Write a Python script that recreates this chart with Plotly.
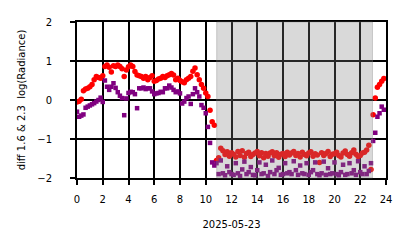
import plotly.graph_objects as go

# time of day in hours (10-minute cadence)
hours = [i / 6 for i in range(144)]

# diff 1.6 & 2.3 log(Radiance) - red series
red_vals = [
    -0.05, -0.03, 0.02, 0.24, 0.28, 0.30,
    0.34, 0.40, 0.52, 0.60, 0.58, 0.56,
    0.62, 0.86, 0.90, 0.84, 0.72, 0.88,
    0.86, 0.90, 0.86, 0.80, 0.60, 0.77,
    0.85, 0.90, 0.86, 0.73, 0.64, 0.62,
    0.60, 0.56, 0.60, 0.52, 0.58, 0.62,
    0.48, 0.50, 0.54, 0.56, 0.60, 0.58,
    0.62, 0.65, 0.68, 0.64, 0.52, 0.56,
    0.50, 0.47, 0.44, 0.52, 0.56, 0.60,
    0.74, 0.82, 0.65, 0.52, 0.40, 0.30,
    0.18, 0.09, -0.26, -0.56, -0.65, -1.55,
    -1.48, -1.24, -1.30, -1.40, -1.33, -1.44,
    -1.35, -1.39, -1.46, -1.32, -1.42, -1.30,
    -1.47, -1.37, -1.34, -1.45, -1.40, -1.36,
    -1.32, -1.43, -1.35, -1.48, -1.37, -1.44,
    -1.36, -1.33, -1.43, -1.35, -1.47, -1.39,
    -1.37, -1.45, -1.34, -1.41, -1.36, -1.32,
    -1.42, -1.37, -1.46, -1.34, -1.40, -1.43,
    -1.36, -1.33, -1.44, -1.38, -1.41, -1.60,
    -1.35, -1.42, -1.37, -1.32, -1.45, -1.39,
    -1.38, -1.34, -1.42, -1.46, -1.36, -1.31,
    -1.40, -1.44, -1.35, -1.28, -1.39, -1.45,
    -1.42, -1.36, -1.34, -1.28, -1.16, -1.78,
    -0.38, 0.05, 0.33, 0.40, 0.48, 0.55,
]

# purple series
purple_vals = [
    -0.30, -0.43, -0.40, -0.37, -0.20, -0.17,
    -0.14, -0.11, -0.08, -0.04, 0.00, 0.06,
    -0.05, 0.50, 0.34, 0.26, 0.34, 0.43,
    0.31, 0.20, 0.11, 0.05, -0.39, 0.04,
    0.18, 0.21, 0.20, 0.15, -0.21, 0.30,
    0.30, 0.32, 0.28, 0.30, 0.30, 0.22,
    0.15, 0.17, 0.18, 0.21, 0.20, 0.30,
    0.30, 0.37, 0.32, 0.26, 0.20, 0.22,
    0.17, -0.09, -0.04, 0.05, 0.09, -0.10,
    0.15, 0.30, 0.20, 0.09, -0.13, -0.20,
    -0.34, -0.69, -1.10, -1.60, -1.68, -1.62,
    -1.90, -1.55, -1.88, -1.93, -1.70, -1.85,
    -1.90, -1.92, -1.62, -1.88, -1.95, -1.78,
    -1.58, -1.90, -1.85, -1.72, -1.92, -1.93,
    -1.80, -1.60, -1.90, -1.88, -1.66, -1.95,
    -1.85, -1.55, -1.90, -1.80, -1.74, -1.92,
    -1.90, -1.62, -1.88, -1.85, -1.90, -1.57,
    -1.80, -1.92, -1.68, -1.88, -1.90, -1.62,
    -1.92, -1.85, -1.80, -1.60, -1.90, -1.93,
    -1.88, -1.58, -1.92, -1.75, -1.90, -1.88,
    -1.60, -1.90, -1.93, -1.85, -1.66, -1.92,
    -1.90, -1.62, -1.88, -1.80, -1.92, -1.57,
    -1.85, -1.90, -1.70, -1.90, -1.82, -1.62,
    -1.05, -0.84, -0.43, -0.34, -0.17, -0.25,
]

# night period (shaded)
night_start, night_end = 10.85, 22.95

x_ticks = list(range(0, 25, 2))
y_ticks = [-2, -1, 0, 1, 2]

fig = go.Figure()
fig.add_trace(go.Scatter(x=hours, y=red_vals, mode="markers",
                         marker=dict(color="red", size=5.5, symbol="circle", line=dict(width=0)),
                         showlegend=False))
fig.add_trace(go.Scatter(x=hours, y=purple_vals, mode="markers",
                         marker=dict(color="purple", size=4.5, symbol="square", line=dict(width=0)),
                         showlegend=False))

fig.add_shape(type="rect", xref="x", yref="paper", x0=night_start, x1=night_end, y0=0, y1=1,
              fillcolor="rgba(128,128,128,0.3)", line=dict(color="rgba(128,128,128,0.35)", width=1),
              layer="above")

font = "DejaVu Sans, sans-serif"
fig.update_layout(
    width=414, height=248,
    margin=dict(l=77, r=28, t=22, b=70),
    paper_bgcolor="white", plot_bgcolor="white",
    font=dict(family=font, size=10, color="black"),
)
fig.update_xaxes(
    range=[0, 24], tickvals=x_ticks, ticktext=[str(t) for t in x_ticks],
    showgrid=True, gridcolor="black", gridwidth=2,
    showline=True, linecolor="black", linewidth=2, mirror=True,
    ticks="outside", ticklen=5, tickwidth=2, tickcolor="black",
    ticklabelstandoff=6,
    zeroline=False,
    title=dict(text="2025-05-23", font=dict(size=10), standoff=17),
)
fig.update_yaxes(
    range=[-2, 2], tickvals=y_ticks, ticktext=["\u22122", "\u22121", "0", "1", "2"],
    showgrid=True, gridcolor="black", gridwidth=2,
    showline=True, linecolor="black", linewidth=2, mirror=True,
    ticks="outside", ticklen=5, tickwidth=2, tickcolor="black",
    ticklabelstandoff=16,
    zeroline=False,
    title=dict(text="diff 1.6 &amp; 2.3&nbsp;&nbsp;log(Radiance)", font=dict(size=10), standoff=10),
)

fig.write_html("out.html")
